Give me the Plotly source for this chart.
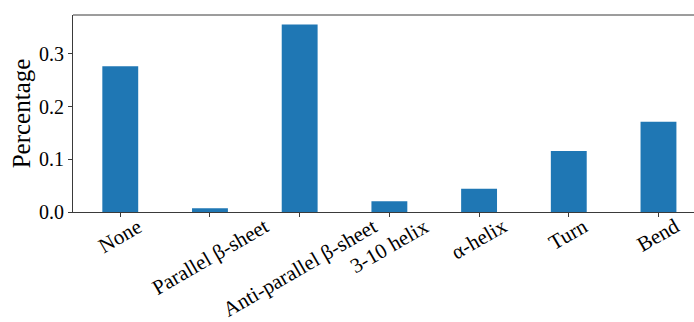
import plotly.graph_objects as go

# Secondary-structure composition
categories = ["None", "Parallel β-sheet", "Anti-parallel β-sheet", "3-10 helix",
              "α-helix", "Turn", "Bend"]
percentages = [0.2765, 0.007, 0.356, 0.0203, 0.0442, 0.1158, 0.1714]
y_ticks = [0.0, 0.1, 0.2, 0.3]
y_tick_labels = ["0.0", "0.1", "0.2", "0.3"]

FONT = "Liberation Serif"
SPINE = "#3a3a3a"

fig = go.Figure(
    go.Bar(
        x=categories,
        y=percentages,
        width=0.4,
        marker=dict(color="#1f77b4", line=dict(width=0)),
    )
)

# Rotated category labels, centred under each tick
for c in categories:
    fig.add_annotation(
        x=c, y=0, xref="x", yref="y",
        text=c, showarrow=False, textangle=-30,
        xanchor="center", yanchor="top", yshift=1,
        font=dict(family=FONT, size=21, color="black"),
    )

# Top spine
fig.add_shape(type="line", xref="paper", yref="paper", x0=0, x1=1, y0=1, y1=1,
              line=dict(color=SPINE, width=1))

fig.update_layout(
    width=694, height=322,
    margin=dict(l=73, r=0, t=15, b=110),
    plot_bgcolor="white", paper_bgcolor="white",
    showlegend=False,
    font=dict(family=FONT, color="black"),
    xaxis=dict(
        type="category", range=[-0.527, 6.396],
        showline=True, linecolor=SPINE, linewidth=1,
        ticks="outside", ticklen=4, tickcolor=SPINE, tickwidth=1,
        showticklabels=False, showgrid=False, zeroline=False,
    ),
    yaxis=dict(
        range=[0, 0.374],
        tickvals=y_ticks, ticktext=y_tick_labels,
        showline=True, linecolor=SPINE, linewidth=1,
        ticks="outside", ticklen=4, tickcolor=SPINE, tickwidth=1,
        tickfont=dict(family=FONT, size=20, color="black"),
        showgrid=False, zeroline=False,
        title=dict(text="Percentage", font=dict(family=FONT, size=25, color="black"),
                   standoff=1),
    ),
)

fig.write_html("out.html")
